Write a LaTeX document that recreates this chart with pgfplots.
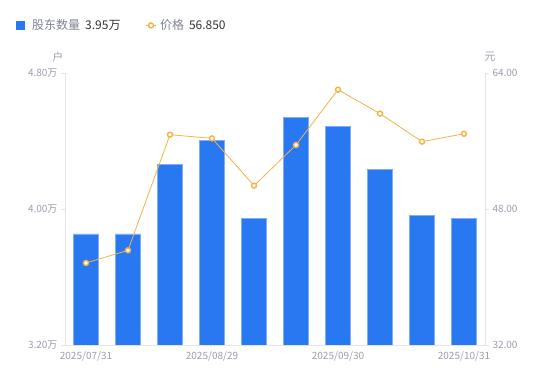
\documentclass[border=0pt]{standalone}
\usepackage{pgfplots}
\pgfplotsset{compat=1.18}
\usepackage{fontspec}
\setmainfont{Noto Sans CJK SC}
\definecolor{barblue}{HTML}{2878F2}
\definecolor{baredge}{HTML}{7FAEF6}
\definecolor{lineorange}{HTML}{F5B246}
\definecolor{axgray}{HTML}{E3E5EA}
\definecolor{tickgray}{HTML}{9A9FAE}
\definecolor{legtext}{HTML}{7F8493}
\definecolor{valtext}{HTML}{333333}
\begin{document}
\begin{tikzpicture}
\useasboundingbox (0,0) rectangle (550bp,381bp);
\begin{axis}[
  at={(65bp,36bp)}, anchor=south west,
  width=420bp, height=272bp, scale only axis,
  xmin=-0.5, xmax=9.5, ymin=3.2, ymax=4.8,
  axis y line*=left, axis x line*=bottom,
  axis line style={-, draw=axgray, line width=0.8bp},
  xtick={0,3,6,9},
  xticklabels={2025/07/31,2025/08/29,2025/09/30,2025/10/31},
  x tick style={draw=none},
  ytick={3.2,4.0,4.8},
  yticklabels={3.20万,4.00万,4.80万},
  y tick style={draw=axgray, line width=0.8bp},
  tick align=outside, major tick length=4bp,
  ticklabel style={font=\fontsize{10bp}{12bp}\selectfont, text=tickgray},
  xticklabel style={yshift=1bp},
  legend columns=2,
  legend style={at={(rel axis cs:-0.125,1.208)}, anchor=north west, draw=none, fill=none,
    font=\fontsize{12bp}{14bp}\selectfont, text=legtext,
    /tikz/every even column/.append style={column sep=22bp},
    nodes={inner xsep=3bp, inner ysep=1bp}},
  clip mode=individual,
]
\addplot[ybar, bar width=25bp, fill=barblue, draw=baredge, line width=0.6bp,
  legend image code/.code={\path[draw=none,fill=none] (0bp,0bp) -- (13.5bp,0bp); \path[fill=barblue,draw=none] (0bp,-4.5bp) rectangle (9.5bp,4.5bp);}]
  coordinates {(0,3.853) (1,3.853) (2,4.263) (3,4.402) (4,3.945) (5,4.541) (6,4.488) (7,4.235) (8,3.963) (9,3.947)};
\addlegendentry{股东数量\hspace{5bp}\textcolor{valtext}{3.95万}}
\addlegendimage{legend image code/.code={\path[draw=none,fill=none] (0bp,0bp) -- (11bp,0bp); \draw[lineorange, line width=1bp] (0bp,0bp) -- (10bp,0bp); \draw[lineorange, line width=1.4bp, fill=white] (5bp,0bp) circle (2.5bp);}}
\addlegendentry{价格\hspace{5bp}\textcolor{valtext}{56.850}}
\node[font=\fontsize{11bp}{13bp}\selectfont, text=tickgray] at (rel axis cs:-0.017,1.059) {户};
\end{axis}
\begin{axis}[
  at={(65bp,36bp)}, anchor=south west,
  width=420bp, height=272bp, scale only axis,
  xmin=-0.5, xmax=9.5, ymin=32, ymax=64,
  axis y line*=right, axis x line=none,
  axis line style={-, draw=axgray, line width=0.8bp},
  ytick={32,48,64},
  yticklabels={32.00,48.00,64.00},
  y tick style={draw=axgray, line width=0.8bp},
  tick align=outside, major tick length=4bp,
  ticklabel style={font=\fontsize{10bp}{12bp}\selectfont, text=tickgray},
  clip=false,
]
\addplot[lineorange, line width=0.8bp, mark=*, mark size=2.5bp,
  mark options={fill=white, draw=lineorange, line width=1.4bp}]
  coordinates {(0,41.65) (1,43.14) (2,56.74) (3,56.31) (4,50.75) (5,55.53) (6,62.04) (7,59.22) (8,55.92) (9,56.85)};
\node[font=\fontsize{11bp}{13bp}\selectfont, text=tickgray] at (rel axis cs:1.012,1.059) {元};
\end{axis}
\end{tikzpicture}
\end{document}
